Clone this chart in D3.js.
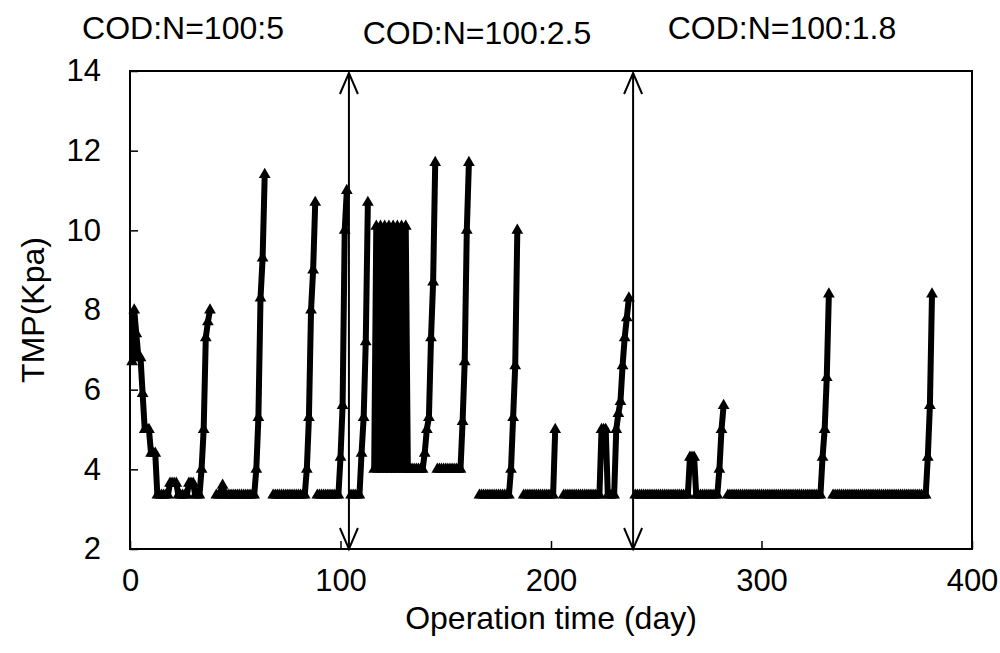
<!DOCTYPE html>
<meta charset="utf-8">
<style>
body { margin: 0; background: #fff; }
text { font-family: "Liberation Sans", Arial, sans-serif; font-size: 32px; fill: #000; }
.tick text { font-size: 31px; }
.series { fill: none; stroke: #000; stroke-width: 6px; stroke-linejoin: round; }
.frame { fill: none; stroke: #000; stroke-width: 2px; }
.phase { fill: none; stroke: #000; stroke-width: 2px; }
</style>
<body>
<script src="https://d3js.org/d3.v7.min.js"></script>
<script>

// TMP readings, one per day. Each run starts on the day in runStart;
// runs are not joined to each other (blank days in the sheet).
var runStart = [1, 41, 68, 89, 105, 116, 146, 166, 187, 206, 240, 284, 334];

var run1 = [6.7, 8.0, 7.4, 6.8, 6.8, 5.9, 5.0, 5.0, 5.0, 4.4, 4.4, 4.4,
  3.35, 3.35, 3.35, 3.35, 3.35, 3.35, 3.65, 3.65, 3.65, 3.65,
  3.35, 3.35, 3.35, 3.35, 3.35, 3.65, 3.65, 3.65, 3.35, 3.35, 3.35,
  4.0, 5.0, 7.3, 7.7, 8.0];
var run2 = [3.35, 3.35, 3.35, 3.6, 3.35, 3.35, 3.35, 3.35, 3.35, 3.35, 3.35, 3.35,
  3.35, 3.35, 3.35, 3.35, 3.35, 3.35, 3.35, 4.0, 5.3, 8.3, 9.3, 11.4];
var run3 = [3.35, 3.35, 3.35, 3.35, 3.35, 3.35, 3.35, 3.35, 3.35, 3.35, 3.35, 3.35,
  3.35, 3.35, 3.35, 3.35, 4.0, 5.3, 8.0, 9.0, 10.7];
var run4 = [3.35, 3.35, 3.35, 3.35, 3.35, 3.35, 3.35, 3.35, 3.35, 3.35, 3.35,
  4.3, 5.6, 10.0, 11.0];
var run5 = [3.35, 3.35, 3.35, 3.35, 3.35, 4.4, 5.3, 7.2, 10.7];
var run6 = [4.0, 10.1, 4.0, 10.1, 4.0, 10.1, 4.0, 10.1, 4.0, 10.1, 4.0, 10.1,
  4.0, 10.1, 4.0, 10.1, 4.0,
  4.0, 4.0, 4.0, 4.0, 4.0, 4.0, 4.0, 4.4, 5.0, 5.3, 7.3, 8.7, 11.7];
var run7 = [4.0, 4.0, 4.0, 4.0, 4.0, 4.0, 4.0, 4.0, 4.0, 4.0, 4.0, 4.0,
  5.2, 6.7, 10.0, 11.7];
var run8 = [3.35, 3.35, 3.35, 3.35, 3.35, 3.35, 3.35, 3.35, 3.35, 3.35, 3.35, 3.35,
  3.35, 3.35, 3.35, 4.0, 5.3, 6.6, 10.0];
var run9 = [3.35, 3.35, 3.35, 3.35, 3.35, 3.35, 3.35, 3.35, 3.35, 3.35, 3.35, 3.35,
  3.35, 3.35, 3.35, 5.0];
var run10 = [3.35, 3.35, 3.35, 3.35, 3.35, 3.35, 3.35, 3.35, 3.35, 3.35, 3.35, 3.35,
  3.35, 3.35, 3.35, 3.35, 3.35, 3.35, 5.0, 5.0, 5.0, 3.35, 3.35, 3.35, 3.35,
  5.0, 5.4, 5.7, 6.6, 7.3, 7.8, 8.3];
var run11 = [3.35, 3.35, 3.35, 3.35, 3.35, 3.35, 3.35, 3.35, 3.35, 3.35, 3.35, 3.35,
  3.35, 3.35, 3.35, 3.35, 3.35, 3.35, 3.35, 3.35, 3.35, 3.35, 3.35, 3.35, 3.35, 3.35,
  4.3, 4.3, 4.3, 3.35, 3.35, 3.35, 3.35, 3.35, 3.35, 3.35, 3.35, 3.35, 3.35, 3.35,
  4.0, 5.0, 5.6];
var run12 = [3.35, 3.35, 3.35, 3.35, 3.35, 3.35, 3.35, 3.35, 3.35, 3.35, 3.35, 3.35,
  3.35, 3.35, 3.35, 3.35, 3.35, 3.35, 3.35, 3.35, 3.35, 3.35, 3.35, 3.35, 3.35, 3.35,
  3.35, 3.35, 3.35, 3.35, 3.35, 3.35, 3.35, 3.35, 3.35, 3.35, 3.35, 3.35, 3.35, 3.35,
  3.35, 3.35, 3.35, 3.35, 3.35, 4.3, 5.0, 6.3, 8.4];
var run13 = [3.35, 3.35, 3.35, 3.35, 3.35, 3.35, 3.35, 3.35, 3.35, 3.35, 3.35, 3.35,
  3.35, 3.35, 3.35, 3.35, 3.35, 3.35, 3.35, 3.35, 3.35, 3.35, 3.35, 3.35, 3.35, 3.35,
  3.35, 3.35, 3.35, 3.35, 3.35, 3.35, 3.35, 3.35, 3.35, 3.35, 3.35, 3.35, 3.35, 3.35,
  3.35, 3.35, 3.35, 3.35, 3.35, 4.3, 5.6, 8.4];

var runs = [run1, run2, run3, run4, run5, run6, run7, run8, run9, run10, run11, run12, run13];

// days where the feed ratio was changed, and the ratio of each phase
var changeDays = [104, 239];
var phaseNames = ["COD:N=100:5", "COD:N=100:2.5", "COD:N=100:1.8"];

var xTicks = [0, 100, 200, 300, 400];
var yTicks = [2, 4, 6, 8, 10, 12, 14];

// ---- drawing ----
var width = 1000, height = 653;
var plot = {left: 130, right: 972, top: 71, bottom: 549};

var x = d3.scaleLinear().domain([0, 400]).range([plot.left, plot.right]);
var y = d3.scaleLinear().domain([2, 14]).range([plot.bottom, plot.top]);

var svg = d3.select("body").append("svg")
    .attr("width", width)
    .attr("height", height);

// x axis, ticks pointing into the plot
var xAxis = svg.append("g")
    .attr("transform", "translate(0," + plot.bottom + ")")
    .call(d3.axisBottom(x).tickValues(xTicks).tickSize(-8).tickPadding(20));
xAxis.select(".domain").remove();

var yAxis = svg.append("g")
    .attr("transform", "translate(" + plot.left + ",0)")
    .call(d3.axisLeft(y).tickValues(yTicks).tickSize(-8).tickPadding(29));
yAxis.select(".domain").remove();

svg.selectAll(".tick line").attr("stroke", "#000").attr("stroke-width", 1.5);
svg.selectAll(".tick text").attr("font-size", null).attr("font-family", null).attr("fill", "#000");

// frame
svg.append("rect")
    .attr("class", "frame")
    .attr("x", plot.left)
    .attr("y", plot.top)
    .attr("width", plot.right - plot.left)
    .attr("height", plot.bottom - plot.top);

// the TMP line, run by run
var line = d3.line()
    .x(function(d) { return x(d.day); })
    .y(function(d) { return y(d.tmp); });

var triangle = d3.symbol().type(d3.symbolTriangle).size(60);

runs.forEach(function(run, r) {
  var pts = run.map(function(v, i) { return {day: runStart[r] + i, tmp: v}; });

  svg.append("path")
      .datum(pts)
      .attr("class", "series")
      .attr("d", line);

  svg.append("g").selectAll("path")
      .data(pts)
    .enter().append("path")
      .attr("d", triangle)
      .attr("transform", function(d) { return "translate(" + x(d.day) + "," + y(d.tmp) + ")"; })
      .attr("fill", "#000");
});

// double headed arrows marking the ratio changes
changeDays.forEach(function(day) {
  var cx = x(day), t = plot.top + 2, b = plot.bottom;
  svg.append("line").attr("class", "phase")
      .attr("x1", cx).attr("x2", cx).attr("y1", t).attr("y2", b);
  svg.append("path").attr("class", "phase")
      .attr("d", "M" + (cx - 9) + "," + (t + 21) + "L" + cx + "," + t + "L" + (cx + 9) + "," + (t + 21));
  svg.append("path").attr("class", "phase")
      .attr("d", "M" + (cx - 9) + "," + (b - 21) + "L" + cx + "," + b + "L" + (cx + 9) + "," + (b - 21));
});

// phase labels above the plot
var labelPos = [[183, 39], [477, 44], [782, 39]];
svg.selectAll(".phase-label")
    .data(phaseNames)
  .enter().append("text")
    .attr("class", "phase-label")
    .attr("x", function(d, i) { return labelPos[i][0]; })
    .attr("y", function(d, i) { return labelPos[i][1]; })
    .attr("text-anchor", "middle")
    .text(function(d) { return d; });

// axis titles
svg.append("text")
    .attr("x", (plot.left + plot.right) / 2)
    .attr("y", 629)
    .attr("text-anchor", "middle")
    .text("Operation time (day)");

svg.append("text")
    .attr("transform", "translate(44," + (plot.top + plot.bottom) / 2 + ") rotate(-90)")
    .attr("text-anchor", "middle")
    .text("TMP(Kpa)");

</script>
</body>
